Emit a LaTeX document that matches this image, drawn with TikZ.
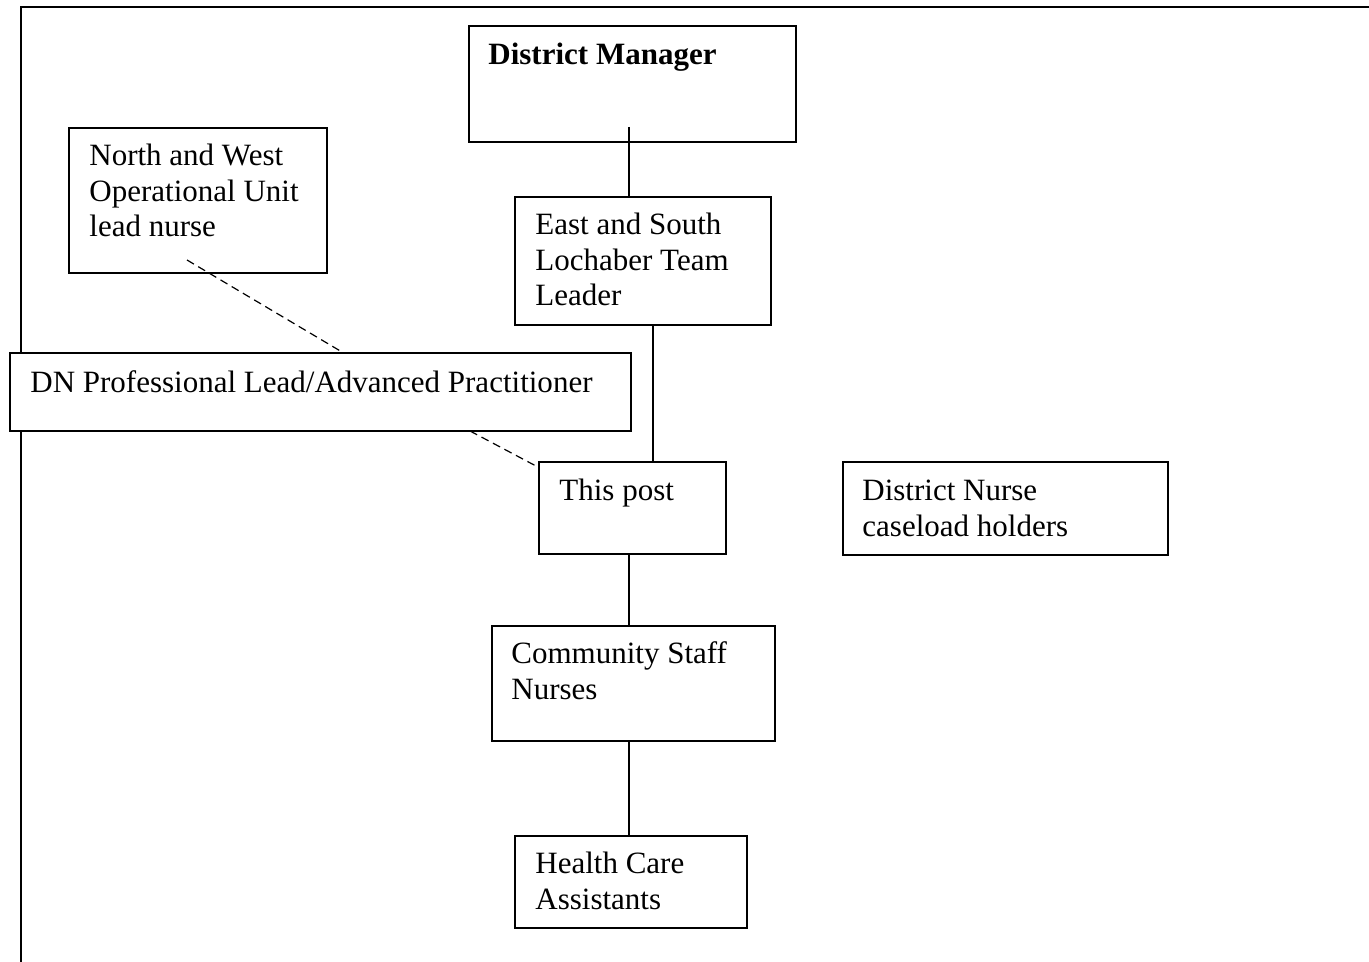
\documentclass[tikz,border=0pt]{standalone}
\usepackage{fontspec}
\setmainfont{Liberation Serif}
\begin{document}
\begin{tikzpicture}[x=0.5pt,y=-0.5pt,
  box/.style={draw,line width=0.9pt,fill=white,inner sep=0pt,anchor=north west,minimum width=#1},
  lbl/.style={inner sep=0pt,anchor=base west,align=left,font=\fontsize{15.5}{17.75}\selectfont},
  conn/.style={line width=0.8pt},
  dashconn/.style={line width=0.6pt,dash pattern=on 4pt off 2.5pt},
  frame/.style={line width=1.3pt}]
\useasboundingbox (0,0) rectangle (1369,962);
% page frame
\draw[frame] (21,962) -- (21,7) -- (1369,7);
% boxes
\node[box=163.5pt,minimum height=58pt] (dm) at (468,25) {};
\node[box=129pt,minimum height=72.5pt] (nw) at (68,127) {};
\node[box=128pt,minimum height=64pt] (tl) at (514,196) {};
\node[box=310.5pt,minimum height=39pt] (dn) at (9,352) {};
\node[box=93.5pt,minimum height=46pt] (tp) at (538,461) {};
\node[box=162.5pt,minimum height=46.5pt] (dnc) at (842,461) {};
\node[box=141.5pt,minimum height=57.5pt] (csn) at (491,625) {};
\node[box=116pt,minimum height=46pt] (hca) at (514,835) {};
% texts (anchor = baseline of the last line)
\node[lbl,font=\fontsize{15.5}{17.75}\selectfont\bfseries] (dmT) at (488,65) {District Manager};
\node[lbl] (nwT) at (89,237) {North and West\\Operational Unit\\lead nurse};
\node[lbl] (tlT) at (535,306) {East and South\\Lochaber Team\\Leader};
\node[lbl] (dnT) at (30,392) {DN Professional Lead/Advanced Practitioner};
\node[lbl] (tpT) at (559,500) {This post};
\node[lbl] (dncT) at (862,536) {District Nurse\\caseload holders};
\node[lbl] (csnT) at (511,699) {Community Staff\\Nurses};
\node[lbl] (hcaT) at (535,909) {Health Care\\Assistants};
% connector anchors
\coordinate (c629) at (629,127);
\coordinate (c653) at (653,0);
\coordinate (nwd) at (187,260);
\coordinate (dnu) at (342,352);
\coordinate (dnd) at (470,431);
\coordinate (tpd) at (536,466);
% connectors
\draw[conn] (c629) -- (c629 |- tl.north);
\draw[conn] (tl.south -| c653) -- (tp.north -| c653);
\draw[conn] (tp.south -| c629) -- (csn.north -| c629);
\draw[conn] (csn.south -| c629) -- (hca.north -| c629);
\draw[dashconn] (nwd) -- (dnu);
\draw[dashconn] (dnd) -- (tpd);
\end{tikzpicture}
\end{document}
